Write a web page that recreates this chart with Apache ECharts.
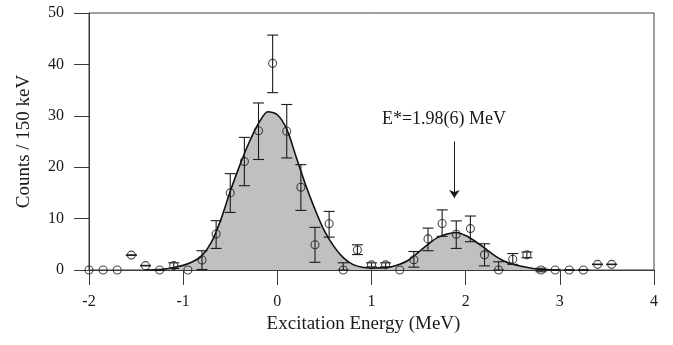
<!DOCTYPE html>
<html>
<head>
<meta charset="utf-8">
<script src="https://cdn.jsdelivr.net/npm/echarts@6/dist/echarts.min.js"></script>
<style>
  html, body { margin: 0; padding: 0; background: #fff; }
  #chart { width: 673px; height: 345px; }
</style>
</head>
<body>
<div id="chart"></div>
<script>
// Measured spectrum: bin centres (MeV), counts per 150 keV, and error-bar bounds
const ptsX = [-2.0, -1.85, -1.7, -1.55, -1.4, -1.25, -1.1, -0.95, -0.8, -0.65, -0.5, -0.35, -0.2, -0.05,
              0.1, 0.25, 0.4, 0.55, 0.7, 0.85, 1.0, 1.15, 1.3, 1.45, 1.6, 1.75, 1.9, 2.05, 2.2, 2.35,
              2.5, 2.65, 2.8, 2.95, 3.1, 3.25, 3.4, 3.55];
const ptsY = [0, 0, 0, 2.9, 0.85, 0, 0.85, 0, 1.95, 7.0, 15.0, 21.1, 27.1, 40.2,
              27.0, 16.1, 4.9, 9.0, 0, 3.9, 1.0, 1.0, 0, 2.0, 6.05, 9.05, 6.95, 8.05, 2.95, 0,
              2.1, 2.95, 0, 0, 0, 0, 1.1, 1.1];
const errLo = [null, null, null, 2.85, 0.8, -0.1, 0.3, null, 0.1, 4.2, 11.2, 16.4, 21.5, 34.5,
               21.8, 11.6, 1.5, 6.4, 0, 3.0, 0.6, 0.6, null, 0.55, 3.75, 6.55, 4.2, 5.5, 0.8, 0,
               1.1, 2.4, -0.35, -0.05, -0.05, -0.05, 1.05, 1.05];
const errHi = [null, null, null, 2.95, 0.9, 0.1, 1.4, null, 3.75, 9.6, 18.75, 25.8, 32.5, 45.7,
               32.2, 20.5, 8.3, 11.4, 1.4, 4.9, 1.4, 1.4, null, 3.6, 8.15, 11.7, 9.55, 10.5, 5.1, 1.6,
               3.2, 3.5, 0.35, 0.05, 0.05, 0.05, 1.15, 1.15];

// Fitted line shape (two peaks), sampled every 0.1 MeV
const curveX = [-1.4, -1.3, -1.2, -1.1, -1.0, -0.9, -0.8, -0.7, -0.6, -0.5, -0.4, -0.3, -0.2, -0.1,
                0.0, 0.1, 0.2, 0.3, 0.4, 0.5, 0.6, 0.7, 0.8, 0.9, 1.0, 1.1, 1.2, 1.3, 1.4, 1.5,
                1.6, 1.7, 1.8, 1.9, 2.0, 2.1, 2.2, 2.3, 2.4, 2.5, 2.6, 2.7, 2.8, 2.9, 3.0];
const curveY = [0.0, 0.05, 0.2, 0.5, 0.9, 1.6, 2.8, 5.4, 9.8, 15.3, 20.3, 24.8, 28.5, 30.8,
                30.2, 27.4, 22.0, 16.6, 11.8, 7.6, 4.6, 2.4, 1.1, 0.55, 0.4, 0.42, 0.6, 1.1, 2.0, 3.5,
                5.0, 6.3, 7.0, 7.3, 6.7, 5.6, 4.3, 2.9, 1.8, 1.1, 0.7, 0.35, 0.12, 0.02, 0.0];

// Axis ticks
const xTicks = { min: -2, max: 4, step: 1 };
const yTicks = { min: 0, max: 50, step: 10 };

// Peak annotation
const peakLabel = 'E*=1.98(6) MeV';
const arrowX = 1.88, arrowFrom = 25.0, arrowTo = 14.0;
const labelAt = [1.77, 29.4];

const FONT = '"Liberation Serif", "Times New Roman", serif';
const INK = '#1a1a1a';
const AXIS = '#3a3a3a';

const curveData = curveX.map((x, i) => [x, curveY[i]]);
const pointData = ptsX.map((x, i) => [x, ptsY[i]]);
const errData = [];
ptsX.forEach((x, i) => {
  if (errLo[i] !== null) errData.push([x, errLo[i], errHi[i]]);
});

const chart = echarts.init(document.getElementById('chart'), null, { renderer: 'canvas' });

chart.setOption({
  animation: false,
  backgroundColor: '#fff',
  grid: {
    left: 89, right: 19, top: 13, bottom: 75,
    show: true, borderColor: AXIS, borderWidth: 1, backgroundColor: 'transparent'
  },
  xAxis: {
    type: 'value',
    min: xTicks.min, max: xTicks.max, interval: xTicks.step,
    name: 'Excitation Energy (MeV)',
    nameLocation: 'middle',
    nameGap: 45,
    nameTextStyle: { fontFamily: FONT, fontSize: 19, color: INK, padding: [0, 16, 0, 0] },
    axisLine: { onZero: false, lineStyle: { color: AXIS, width: 1 } },
    axisTick: { inside: false, length: 15, lineStyle: { color: AXIS, width: 1 } },
    axisLabel: { margin: 24, fontFamily: FONT, fontSize: 16, color: INK },
    splitLine: { show: false }
  },
  yAxis: {
    type: 'value',
    min: yTicks.min, max: yTicks.max, interval: yTicks.step,
    name: 'Counts / 150 keV',
    nameLocation: 'middle',
    nameGap: 55,
    nameRotate: 90,
    nameTextStyle: { fontFamily: FONT, fontSize: 19, color: INK },
    axisLine: { show: true, onZero: false, lineStyle: { color: AXIS, width: 1 } },
    axisTick: { inside: false, length: 15, lineStyle: { color: AXIS, width: 1 } },
    axisLabel: { margin: 25, fontFamily: FONT, fontSize: 16, color: INK },
    splitLine: { show: false }
  },
  series: [
    {
      name: 'fit',
      type: 'line',
      data: curveData,
      smooth: 0.3,
      showSymbol: false,
      z: 2,
      lineStyle: { color: '#111', width: 1.6 },
      areaStyle: { color: '#c0c0c0', opacity: 1 }
    },
    {
      name: 'errors',
      type: 'custom',
      z: 4,
      data: errData,
      renderItem: function (params, api) {
        const x = api.value(0);
        const lo = api.coord([x, api.value(1)]);
        const hi = api.coord([x, api.value(2)]);
        const cap = 5.5;
        const style = { stroke: '#1a1a1a', lineWidth: 1.1 };
        return {
          type: 'group',
          children: [
            { type: 'line', shape: { x1: lo[0], y1: lo[1], x2: hi[0], y2: hi[1] }, style: style },
            { type: 'line', shape: { x1: lo[0] - cap, y1: lo[1], x2: lo[0] + cap, y2: lo[1] }, style: style },
            { type: 'line', shape: { x1: hi[0] - cap, y1: hi[1], x2: hi[0] + cap, y2: hi[1] }, style: style }
          ]
        };
      }
    },
    {
      name: 'data',
      type: 'scatter',
      data: pointData,
      symbol: 'circle',
      symbolSize: 8,
      z: 5,
      itemStyle: { color: 'rgba(0,0,0,0)', borderColor: '#1a1a1a', borderWidth: 1.1 },
      markLine: {
        silent: true,
        symbol: ['none', 'arrow'],
        symbolSize: 8,
        lineStyle: { color: '#1a1a1a', width: 1, type: 'solid' },
        itemStyle: { color: '#1a1a1a' },
        label: { show: false },
        data: [[{ coord: [arrowX, arrowFrom] }, { coord: [arrowX, arrowTo] }]]
      }
    }
  ]
});

// Peak label placed through the chart's own coordinate system
const lp = chart.convertToPixel({ gridIndex: 0 }, labelAt);
chart.setOption({
  graphic: [{
    type: 'text',
    x: lp[0], y: lp[1],
    style: {
      text: peakLabel,
      font: '18px ' + FONT,
      fill: INK,
      align: 'center',
      verticalAlign: 'middle'
    },
    z: 10
  }]
});
</script>
</body>
</html>
